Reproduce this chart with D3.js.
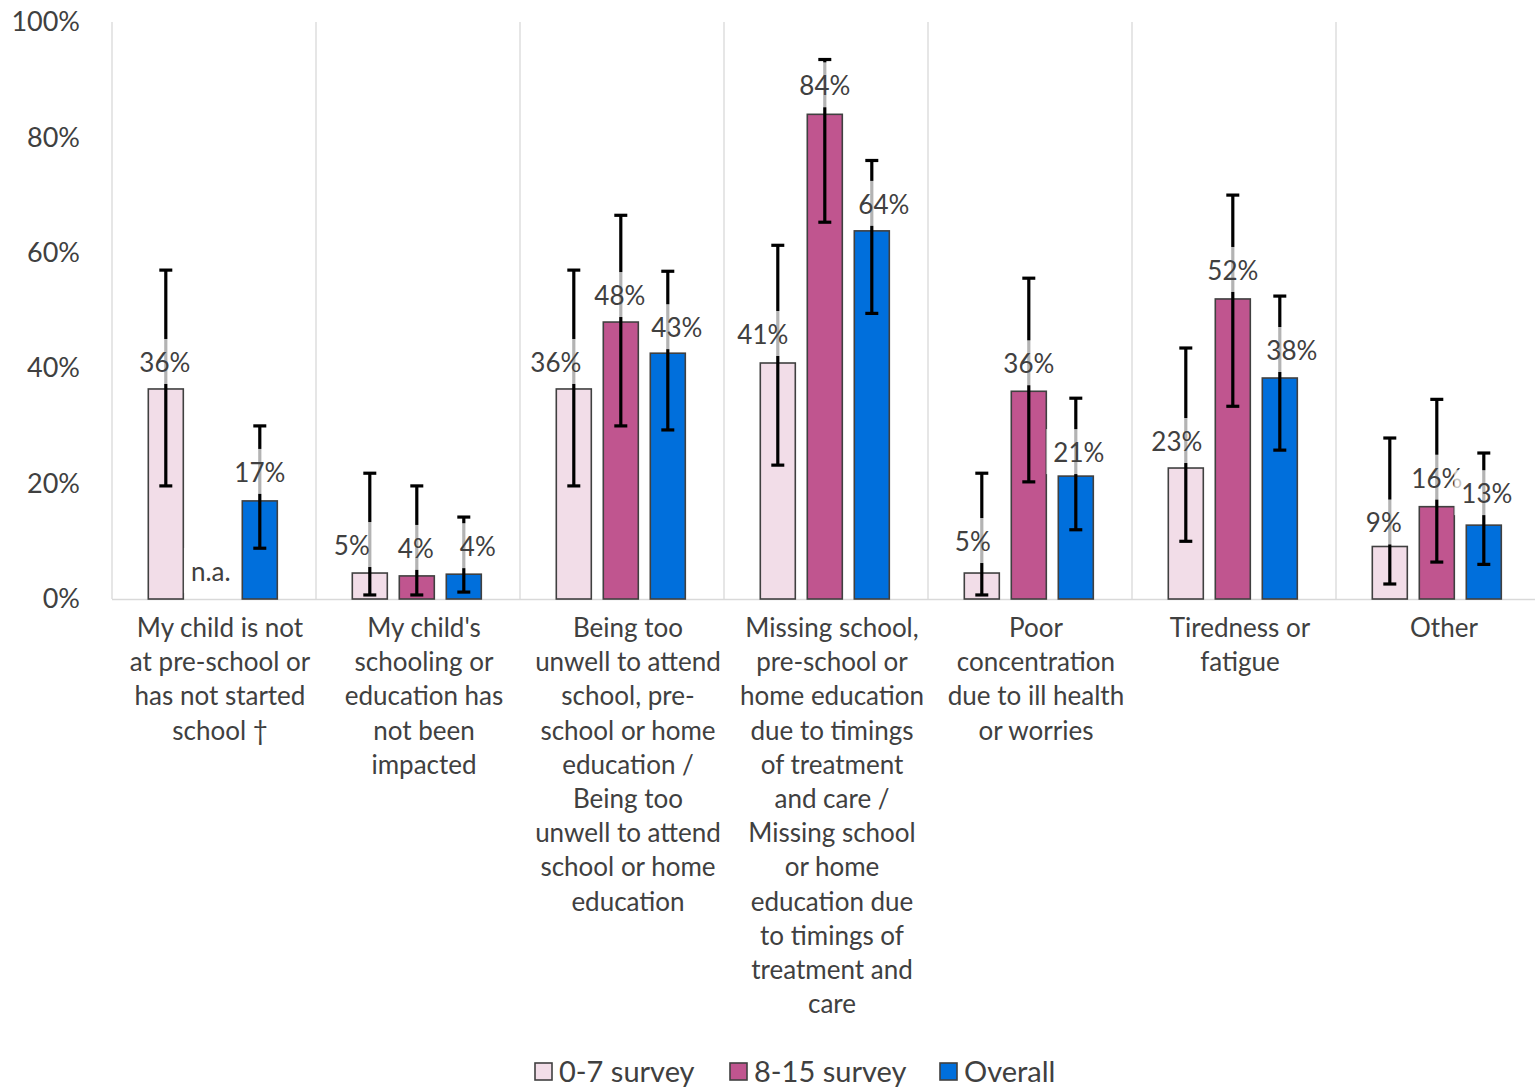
<!DOCTYPE html>
<html>
<head>
<meta charset="utf-8">
<script src="https://cdn.jsdelivr.net/npm/d3@7"></script>
<style>
  html, body { margin: 0; padding: 0; background: #ffffff; }
  svg { display: block; font-family: Lato, "Open Sans", sans-serif; }
</style>
</head>
<body>
<svg id="chart" width="1535" height="1088"></svg>
<script>
// ---------- DATA ----------
const categories = [
  ["My child is not", "at pre-school or", "has not started", "school \u2020"],
  ["My child's", "schooling or", "education has", "not been", "impacted"],
  ["Being too", "unwell to attend", "school, pre-", "school or home", "education /", "Being too", "unwell to attend", "school or home", "education"],
  ["Missing school,", "pre-school or", "home education", "due to timings", "of treatment", "and care /", "Missing school", "or home", "education due", "to timings of", "treatment and", "care"],
  ["Poor", "concentration", "due to ill health", "or worries"],
  ["Tiredness or", "fatigue"],
  ["Other"]
];
const seriesNames = ["0-7 survey", "8-15 survey", "Overall"];

const values0to7   = [36.4, 4.5, 36.4, 40.9, 4.5, 22.7, 9.1];
const values8to15  = [null, 4.0, 48.0, 84.0, 36.0, 52.0, 16.0];
const valuesOverall = [17.0, 4.3, 42.6, 63.8, 21.3, 38.3, 12.8];

const errLow0to7    = [19.6, 0.7, 19.6, 23.2, 0.7, 10.0, 2.6];
const errHigh0to7   = [57.0, 21.8, 57.0, 61.3, 21.8, 43.5, 27.9];
const errLow8to15   = [null, 0.7, 30.0, 65.3, 20.3, 33.4, 6.4];
const errHigh8to15  = [null, 19.6, 66.5, 93.5, 55.6, 70.0, 34.6];
const errLowOverall  = [8.8, 1.2, 29.3, 49.5, 12.0, 25.8, 6.0];
const errHighOverall = [30.0, 14.2, 56.8, 76.0, 34.8, 52.5, 25.3];

const yTicks = [0, 20, 40, 60, 80, 100];
const naLabel = "n.a.";

// ---------- STYLE / LAYOUT ----------
const colors = ["#f2dde8", "#c0558f", "#006fdc"];
const labelDx = [
  [-1, -18, -18, -15, -9, -9, -6],
  [1, -1, -1, 0, 0, 0, 0],
  [0, 14, 9, 12, 3, 12, 3]
];
const labelDy = [
  [-27, -28, -27, -29, -32, -27, -24],
  [-28, -28, -27, -29, -28, -29, -29],
  [-29, -28, -26, -27, -24, -28, -32]
];
const textColor = "#404040";

const svg = d3.select("#chart");
const x0 = 112, x1 = 1540, yTop = 22, yBottom = 599;

const x = d3.scaleBand().domain(d3.range(categories.length)).range([x0, x1]).padding(0);
const y = d3.scaleLinear().domain([0, 100]).range([yBottom, yTop]);
const barW = 35, barStep = 47, groupShift = -1.2;
const sub = d3.scaleLinear().domain([0, 2]).range([-barStep, barStep]);

const seriesVals = [values0to7, values8to15, valuesOverall];
const seriesLow = [errLow0to7, errLow8to15, errLowOverall];
const seriesHigh = [errHigh0to7, errHigh8to15, errHighOverall];

// vertical gridlines at category boundaries
svg.append("g").selectAll("line")
  .data(d3.range(categories.length + 1))
  .join("line")
  .attr("x1", i => x0 + i * x.bandwidth()).attr("x2", i => x0 + i * x.bandwidth())
  .attr("y1", yTop).attr("y2", yBottom)
  .attr("stroke", "#d9d9d9").attr("stroke-width", 1.3);

// x axis line
svg.append("line").attr("x1", x0).attr("x2", 1535).attr("y1", yBottom + 0.5).attr("y2", yBottom + 0.5)
  .attr("stroke", "#d9d9d9").attr("stroke-width", 1.5);

// y axis labels
const yAxis = d3.axisLeft(y).tickValues(yTicks).tickFormat(d => d + "%").tickSize(0).tickPadding(0);
const yg = svg.append("g").attr("transform", "translate(80,0)").call(yAxis);
yg.select(".domain").remove();
yg.selectAll("text").attr("font-size", 27).attr("fill", textColor).attr("font-family", "Lato, 'Open Sans', sans-serif");

// flatten data
const items = [];
categories.forEach((c, ci) => {
  seriesVals.forEach((vals, si) => {
    items.push({ci, si, v: vals[ci], lo: seriesLow[si][ci], hi: seriesHigh[si][ci]});
  });
});
const cx = d => x(d.ci) + x.bandwidth() / 2 + groupShift + sub(d.si);

// bars
svg.append("g").selectAll("rect")
  .data(items.filter(d => d.v != null))
  .join("rect")
  .attr("x", d => cx(d) - barW / 2)
  .attr("width", barW)
  .attr("y", d => y(d.v))
  .attr("height", d => y(0) - y(d.v))
  .attr("fill", d => colors[d.si])
  .attr("stroke", "#404040").attr("stroke-width", 1.6);

// error bars
const eg = svg.append("g").attr("stroke", "#000").attr("stroke-width", 3.2);
items.filter(d => d.lo != null).forEach(d => {
  const c = cx(d);
  eg.append("line").attr("x1", c).attr("x2", c).attr("y1", y(d.hi)).attr("y2", y(d.lo));
  eg.append("line").attr("x1", c - 6.5).attr("x2", c + 6.5).attr("y1", y(d.hi)).attr("y2", y(d.hi));
  eg.append("line").attr("x1", c - 6.5).attr("x2", c + 6.5).attr("y1", y(d.lo)).attr("y2", y(d.lo));
});

// data labels with translucent white background
const lg = svg.append("g");
function addLabel(txt, lx, ly, opacity) {
  const g = lg.append("g");
  const r = g.append("rect");
  const t = g.append("text").attr("x", lx).attr("y", ly).attr("text-anchor", "middle")
    .attr("dominant-baseline", "central").attr("font-size", 26).attr("fill", textColor).text(txt);
  const w = t.node().getComputedTextLength();
  r.attr("x", lx - w / 2 - 7).attr("width", w + 14).attr("y", ly - 23).attr("height", 45)
    .attr("fill", "#fff").attr("fill-opacity", opacity);
  g.append(() => t.node());
}
items.forEach(d => {
  if (d.v == null) {
    addLabel(naLabel, cx(d) - 2, y(0) - 28, 0.75);
  } else {
    addLabel(Math.round(d.v) + "%", cx(d) + labelDx[d.si][d.ci], y(d.v) + labelDy[d.si][d.ci], 0.7);
  }
});

// category labels
const cg = svg.append("g");
categories.forEach((lines, ci) => {
  const t = cg.append("text").attr("text-anchor", "middle").attr("font-size", 26).attr("fill", textColor);
  lines.forEach((ln, li) => {
    t.append("tspan").attr("x", x(ci) + x.bandwidth() / 2 + 6).attr("y", 637 + li * 34.2).text(ln);
  });
});

// legend
const legendX = [535, 730, 940];
const leg = svg.append("g");
seriesNames.forEach((n, i) => {
  leg.append("rect").attr("x", legendX[i]).attr("y", 1063).attr("width", 17).attr("height", 17)
    .attr("fill", colors[i]).attr("stroke", "#404040").attr("stroke-width", 1.6);
  leg.append("text").attr("x", legendX[i] + 24).attr("y", 1082).attr("font-size", 29)
    .attr("fill", textColor).text(n);
});
</script>
</body>
</html>
